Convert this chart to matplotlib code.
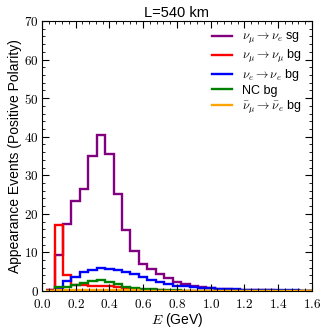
import matplotlib
matplotlib.use('Agg')
import matplotlib.pyplot as plt
import numpy as np
from matplotlib.ticker import MultipleLocator, FuncFormatter

plt.rcParams['font.family'] = ['Liberation Sans', 'DejaVu Sans']
plt.rcParams['mathtext.fontset'] = 'cm'

# bin edges (GeV), 0.05 GeV wide
energy_edges = np.round(np.arange(0.025, 1.626, 0.05), 3)

# events per bin
sig_mu_e = [0.3, 9.4, 17.4, 23.3, 26.4, 35.0, 40.5, 35.6, 25.1, 15.7, 10.3, 7.1,
            5.6, 4.4, 3.4, 2.4, 1.7, 1.2, 0.9, 0.7, 0.5, 0.4, 0.3, 0.25, 0.2,
            0.15, 0.12, 0.1, 0.08, 0.06, 0.05, 0.04]
bg_mu_mu = [0.3, 17.2, 4.0, 1.6, 1.5, 1.3, 1.2, 1.3, 0.9, 0.6, 0.4, 0.3, 0.2,
            0.15, 0.1, 0.08, 0.06, 0.05, 0.04, 0.04, 0.03, 0.03, 0.03, 0.02,
            0.02, 0.02, 0.02, 0.01, 0.01, 0.01, 0.01, 0.01]
bg_e_e = [0.1, 0.6, 2.6, 3.6, 4.8, 5.4, 5.9, 5.8, 5.4, 4.8, 4.4, 3.5, 2.9, 2.2,
          1.7, 1.4, 1.2, 1.0, 0.8, 0.65, 0.55, 0.45, 0.4, 0.35, 0.3, 0.25, 0.2,
          0.2, 0.15, 0.12, 0.1, 0.1]
bg_nc = [0.1, 1.1, 1.0, 1.6, 2.0, 2.7, 2.9, 2.3, 1.7, 1.0, 0.7, 0.5, 0.4, 0.3,
         0.2, 0.15, 0.1, 0.08, 0.06, 0.05, 0.04, 0.04, 0.03, 0.03, 0.03, 0.02,
         0.02, 0.02, 0.02, 0.01, 0.01, 0.01]
bg_mubar_ebar = [0.05, 0.15, 0.2, 0.25, 0.3, 0.3, 0.3, 0.25, 0.2, 0.15, 0.12,
                 0.1, 0.08, 0.06, 0.05, 0.04, 0.03, 0.03, 0.02, 0.02, 0.02,
                 0.02, 0.01, 0.01, 0.01, 0.01, 0.01, 0.01, 0.01, 0.01, 0.01, 0.01]

labels = [r'$\nu_\mu \to \nu_e$ sg', r'$\nu_\mu \to \nu_\mu$ bg',
          r'$\nu_e \to \nu_e$ bg', 'NC bg', r'$\bar{\nu}_\mu \to \bar{\nu}_e$ bg']
colors = ['purple', 'red', 'blue', 'green', 'orange']
series = [sig_mu_e, bg_mu_mu, bg_e_e, bg_nc, bg_mubar_ebar]

fig = plt.figure(figsize=(3.27, 3.34), dpi=100)
ax = fig.add_axes([0.128, 0.129, 0.826, 0.808])

for vals, col, lab in zip(series, colors, labels):
    ax.stairs(vals, energy_edges, color=col, lw=1.7, label=lab, baseline=None)

ax.set_xlim(0, 1.6)
ax.set_ylim(0, 70)
ax.xaxis.set_major_locator(MultipleLocator(0.2))
ax.xaxis.set_minor_locator(MultipleLocator(0.04))
ax.yaxis.set_major_locator(MultipleLocator(10))
ax.yaxis.set_minor_locator(MultipleLocator(2))
ax.xaxis.set_major_formatter(FuncFormatter(lambda v, p: f'${v:.1f}$'))
ax.yaxis.set_major_formatter(FuncFormatter(lambda v, p: f'${v:.0f}$'))
ax.tick_params(which='both', direction='in', top=True, right=True, labelsize=9.5)
ax.tick_params(which='major', length=5)
ax.tick_params(axis='x', which='major', pad=5)
ax.tick_params(axis='y', which='major', pad=2)
ax.tick_params(which='minor', length=2.5)

ax.set_xlabel(r'$E$ (GeV)', fontsize=10, labelpad=0)
ax.set_ylabel('Appearance Events (Positive Polarity)', fontsize=10, labelpad=2)
ax.set_title('L=540 km', fontsize=10.5, pad=3)

ax.legend(loc='upper right', frameon=False, fontsize=9, handlelength=1.6,
          handletextpad=0.8, labelspacing=0.15, borderaxespad=0.4)

fig.savefig('out.png', dpi=100)
